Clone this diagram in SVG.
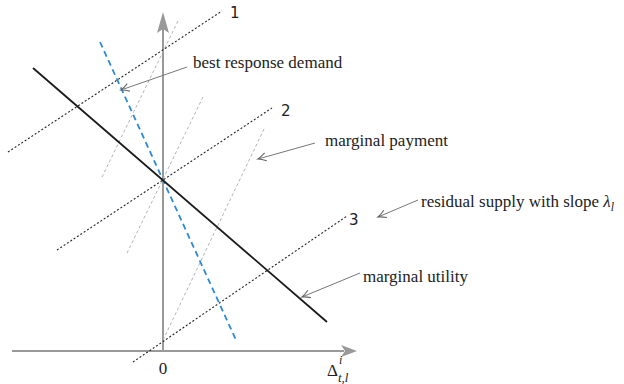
<svg xmlns="http://www.w3.org/2000/svg" width="624" height="384" viewBox="0 0 624 384">
<style>
.lbl{font-family:"Liberation Serif","Times New Roman",serif;font-size:17px;fill:#222}
.num{font-family:"DejaVu Sans","Liberation Sans",sans-serif;font-size:15px;fill:#222}
.axis{stroke:#999;stroke-width:2;fill:none}
.util{stroke:#1a1a1a;stroke-width:1.8;fill:none}
.brd{stroke:#2b8ad6;stroke-width:1.8;stroke-dasharray:6,4;fill:none}
.sup{stroke:#222;stroke-width:1.1;stroke-dasharray:2,2;fill:none}
.pay{stroke:#aaa;stroke-width:0.9;stroke-dasharray:3,2.5;fill:none}
.ann{stroke:#777;stroke-width:1;fill:none}
</style>
<defs>
<marker id="ah" markerUnits="userSpaceOnUse" markerWidth="14" markerHeight="14" viewBox="-12 -7 14 14" refX="0" refY="0" orient="auto">
<path d="M-8,-4 Q-3,-0.8 0,0 Q-3,0.8 -8,4" stroke="#666" stroke-width="1.1" fill="none"/>
</marker>
</defs>
<g id="axes">
<line class="axis" x1="12" y1="351" x2="344" y2="351"/>
<path d="M357,351 L341,345 L345,351 L341,357 Z" fill="#999"/>
<line class="axis" x1="163" y1="351" x2="163" y2="28"/>
<path d="M163,12 L157,33 L163,29 L169,33 Z" fill="#999"/>
<text class="lbl" x="163" y="374" text-anchor="middle">0</text>
<text class="lbl" x="327" y="376">Δ<tspan x="339" y="364" font-size="12" font-style="italic">i</tspan><tspan x="338" y="382" font-size="13" font-style="italic">t,l</tspan></text>
</g>
<g id="marginal-payment-lines">
<line class="pay" x1="102" y1="177" x2="178" y2="21"/>
<line class="pay" x1="127" y1="253" x2="203" y2="97"/>
<line class="pay" x1="163" y1="340" x2="265" y2="127"/>
</g>
<g id="residual-supply-lines">
<line class="sup" x1="8" y1="152" x2="222" y2="11"/>
<line class="sup" x1="57" y1="250" x2="272" y2="108"/>
<line class="sup" x1="133" y1="362" x2="347" y2="216"/>
<text class="num" x="230" y="18">1</text>
<text class="num" x="281" y="116">2</text>
<text class="num" x="349" y="225">3</text>
</g>
<g id="best-response-demand-line">
<line class="brd" x1="100" y1="42" x2="236" y2="340"/>
</g>
<g id="marginal-utility-line">
<line class="util" x1="33" y1="68" x2="327" y2="322"/>
</g>
<g id="label-best-response">
<text class="lbl" x="193" y="68">best response demand</text>
</g>
<g id="label-marginal-payment">
<text class="lbl" x="325" y="146">marginal payment</text>
</g>
<g id="label-residual-supply">
<text class="lbl" x="421" y="207">residual supply with slope <tspan font-style="italic">λ</tspan><tspan font-style="italic" font-size="12" dy="4">l</tspan></text>
</g>
<g id="label-marginal-utility">
<text class="lbl" x="363" y="282">marginal utility</text>
</g>
<g id="connectors">
<line class="ann" x1="187" y1="67" x2="121" y2="90" marker-end="url(#ah)"/>
<line class="ann" x1="315" y1="143" x2="258" y2="159" marker-end="url(#ah)"/>
<line class="ann" x1="418" y1="200" x2="378" y2="217" marker-end="url(#ah)"/>
<line class="ann" x1="360" y1="273" x2="302" y2="297" marker-end="url(#ah)"/>
</g>
</svg>
